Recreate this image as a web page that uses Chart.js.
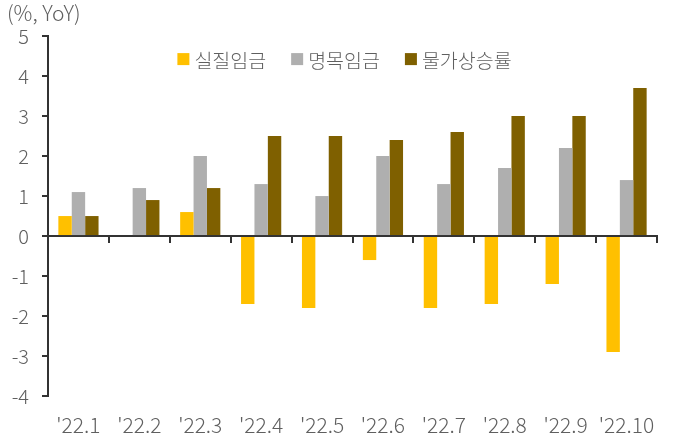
<!DOCTYPE html>
<html>
<head>
<meta charset="utf-8">
<script src="https://cdn.jsdelivr.net/npm/chart.js@4/dist/chart.umd.min.js"></script>
<style>
  html, body { margin: 0; padding: 0; background: #fff; }
  #wrap { width: 687px; height: 441px; }
</style>
</head>
<body>
<div id="wrap"><canvas id="wageChart" width="687" height="441"></canvas></div>
<script>
// Data
const months = ["'22.1", "'22.2", "'22.3", "'22.4", "'22.5", "'22.6", "'22.7", "'22.8", "'22.9", "'22.10"];
const realWage = [0.5, 0, 0.6, -1.7, -1.8, -0.6, -1.8, -1.7, -1.2, -2.9];
const nominalWage = [1.1, 1.2, 2.0, 1.3, 1.0, 2.0, 1.3, 1.7, 2.2, 1.4];
const cpiRate = [0.5, 0.9, 1.2, 2.5, 2.5, 2.4, 2.6, 3.0, 3.0, 3.7];
const yTicks = [-4, -3, -2, -1, 0, 1, 2, 3, 4, 5];

const textGray = '#5f5f5f';
const axisDark = '#333333';
const font = '"Noto Sans CJK KR", "Noto Sans", sans-serif';

// legend drawn inside the plot area, one row
const insideLegend = {
    id: 'insideLegend',
    afterDraw(chart) {
        const c = chart.ctx;
        const area = chart.chartArea;
        const box = 12, gap = 5, spacing = 25;
        c.save();
        c.font = '300 19.5px ' + font;
        c.textBaseline = 'middle';
        const items = chart.data.datasets.map(ds => ({ ds, w: box + gap + c.measureText(ds.label).width }));
        const total = items.reduce((s, it) => s + it.w, 0) + spacing * (items.length - 1);
        let x = (area.left + area.right) / 2 - total / 2 - 8;
        const y = area.top + 23;
        items.forEach(it => {
            c.fillStyle = it.ds.backgroundColor;
            c.fillRect(x, y - box / 2, box, box);
            c.fillStyle = textGray;
            c.fillText(it.ds.label, x + box + gap, y + 1);
            x += it.w + spacing;
        });
        c.restore();
    }
};

const ctx = document.getElementById('wageChart');
new Chart(ctx, {
    type: 'bar',
    data: {
        labels: months,
        datasets: [
            { label: '실질임금', data: realWage, backgroundColor: '#FFC000', xAxisID: 'x' },
            { label: '명목임금', data: nominalWage, backgroundColor: '#AFAFAF', xAxisID: 'x' },
            { label: '물가상승률', data: cpiRate, backgroundColor: '#7F6000', xAxisID: 'x' }
        ]
    },
    options: {
        responsive: false,
        animation: false,
        layout: { padding: { left: 7, right: 30, top: 1, bottom: 0 } },
        datasets: { bar: { categoryPercentage: 0.66, barPercentage: 1.0 } },
        plugins: {
            tooltip: { enabled: false },
            legend: { display: false },
            title: {
                display: true,
                text: '(%, YoY)',
                align: 'start',
                color: textGray,
                font: { family: font, size: 21, weight: 300, lineHeight: 1.1 },
                padding: { top: 0, bottom: 12 }
            }
        },
        scales: {
            x: {
                position: 'bottom',
                afterFit: (scale) => { scale.height = 45; },
                grid: { display: false, drawTicks: false },
                border: { display: false },
                ticks: { color: textGray, font: { family: font, size: 21, weight: 300, lineHeight: 1.0 }, padding: 19, maxRotation: 0 }
            },
            xZero: {
                type: 'category',
                labels: months,
                position: { y: 0 },
                grid: { display: true, offset: true, drawOnChartArea: false, tickLength: 6, color: axisDark, lineWidth: 2 },
                border: { display: true, color: axisDark, width: 2 },
                ticks: { display: false }
            },
            y: {
                min: -4,
                max: 5,
                afterBuildTicks: (scale) => { scale.ticks = yTicks.map(v => ({ value: v })); },
                afterFit: (scale) => { scale.width = 41; },
                grid: { drawOnChartArea: false, tickLength: 6, color: axisDark, lineWidth: 2 },
                border: { display: true, color: axisDark, width: 2 },
                ticks: { color: textGray, font: { family: font, size: 20, weight: 300 }, padding: 13 }
            }
        }
    },
    plugins: [insideLegend]
});
</script>
</body>
</html>
